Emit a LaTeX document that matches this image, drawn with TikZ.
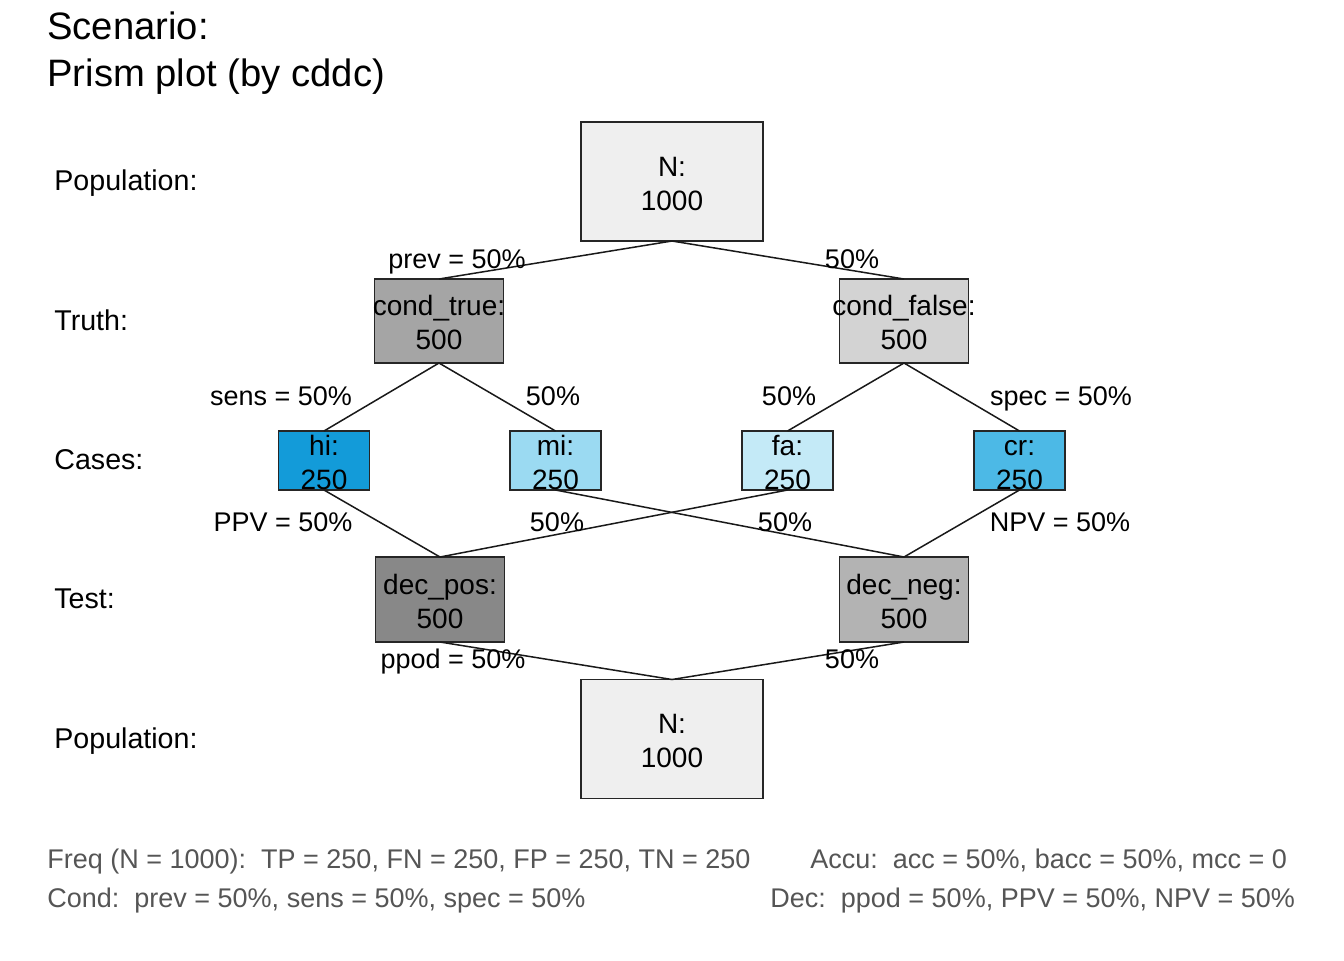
\documentclass[tikz,border=0pt]{standalone}
\usepackage{fontspec}
\setmainfont{Liberation Sans}
\begin{document}
\begin{tikzpicture}[x=0.5pt,y=-0.5pt,
  box/.style={draw=black!85,line width=0.75pt,inner sep=0pt,outer sep=0pt},
  nbox/.style={box,minimum width=91pt,minimum height=59.5pt,fill=nfill},
  mbox/.style={box,minimum width=64.5pt,minimum height=42pt},
  cbox/.style={box,minimum width=45.5pt,minimum height=29.5pt},
  btext/.style={inner sep=0pt,align=center,font=\fontsize{14}{17}\selectfont},
  rowlab/.style={anchor=base west,inner sep=0pt,font=\fontsize{14.3}{17}\selectfont},
  elab/.style={anchor=base,inner sep=0pt,font=\fontsize{13.5}{16}\selectfont},
  foot/.style={anchor=base west,inner sep=0pt,text=foottxt,font=\fontsize{13.5}{16}\selectfont},
  edge/.style={line width=0.75pt,black!90}
]
\definecolor{nfill}{HTML}{EFEFEF}
\definecolor{ctfill}{HTML}{A5A5A5}
\definecolor{cffill}{HTML}{D3D3D3}
\definecolor{hifill}{HTML}{139BD9}
\definecolor{mifill}{HTML}{9BDAF2}
\definecolor{fafill}{HTML}{C4EAF7}
\definecolor{crfill}{HTML}{4CB9E6}
\definecolor{dpfill}{HTML}{888888}
\definecolor{dnfill}{HTML}{B3B3B3}
\definecolor{foottxt}{HTML}{555555}
\useasboundingbox[fill=white] (0,0) rectangle (1344,960);

% title
\node[anchor=base west,inner sep=0pt,font=\fontsize{19.1}{23.5}\selectfont] (t1) at (47,39) {Scenario:};
\node[anchor=base west,inner sep=0pt,font=\fontsize{19.1}{23.5}\selectfont] (t2) at (47,86) {Prism plot (by cddc)};

% row labels
\node[rowlab] (r1) at (54,190) {Population:};
\node[rowlab] (r2) at (54,330) {Truth:};
\node[rowlab] (r3) at (54,469) {Cases:};
\node[rowlab] (r4) at (54,608) {Test:};
\node[rowlab] (r5) at (54,748) {Population:};

% boxes
\node[nbox] (N1) at (672,181.5) {};
\node[mbox,fill=ctfill] (ct) at (439,321) {};
\node[mbox,fill=cffill] (cf) at (904,321) {};
\node[cbox,fill=hifill] (hi) at (324,460.5) {};
\node[cbox,fill=mifill] (mi) at (555.5,460.5) {};
\node[cbox,fill=fafill] (fa) at (787.5,460.5) {};
\node[cbox,fill=crfill] (cr) at (1019.5,460.5) {};
\node[mbox,fill=dpfill,minimum height=42.5pt] (dp) at (440,599.5) {};
\node[mbox,fill=dnfill,minimum height=42.5pt] (dn) at (904,599.5) {};
\node[nbox] (N2) at (672,739) {};

% edges
\draw[edge] (N1.south) -- (ct.north);
\draw[edge] (N1.south) -- (cf.north);
\draw[edge] (ct.south) -- (hi.north);
\draw[edge] (ct.south) -- (mi.north);
\draw[edge] (cf.south) -- (fa.north);
\draw[edge] (cf.south) -- (cr.north);
\draw[edge] (hi.south) -- (dp.north);
\draw[edge] (fa.south) -- (dp.north);
\draw[edge] (mi.south) -- (dn.north);
\draw[edge] (cr.south) -- (dn.north);
\draw[edge] (dp.south) -- (N2.north);
\draw[edge] (dn.south) -- (N2.north);

% box texts
\node[btext] (N1t) at ([yshift=-0.75pt]N1.center) {\vphantom{h}N:\\1000};
\node[btext] (ctt) at ([yshift=-0.75pt]ct.center) {\vphantom{h}cond\_true:\\500};
\node[btext] (cft) at ([yshift=-0.75pt]cf.center) {\vphantom{h}cond\_false:\\500};
\node[btext] (hit) at ([yshift=-0.75pt]hi.center) {\vphantom{h}hi:\\250};
\node[btext] (mit) at ([yshift=-0.75pt]mi.center) {\vphantom{h}mi:\\250};
\node[btext] (fat) at ([yshift=-0.75pt]fa.center) {\vphantom{h}fa:\\250};
\node[btext] (crt) at ([yshift=-0.75pt]cr.center) {\vphantom{h}cr:\\250};
\node[btext] (dpt) at ([yshift=-0.75pt]dp.center) {\vphantom{h}dec\_pos:\\500};
\node[btext] (dnt) at ([yshift=-0.75pt]dn.center) {\vphantom{h}dec\_neg:\\500};
\node[btext] (N2t) at ([yshift=-0.75pt]N2.center) {\vphantom{h}N:\\1000};

% edge labels
\node[elab] (l1) at (457,268) {prev = 50\%};
\node[elab] (l2) at (852,268) {50\%};
\node[elab] (l3) at (281,405) {sens = 50\%};
\node[elab] (l4) at (553,405) {50\%};
\node[elab] (l5) at (789,405) {50\%};
\node[elab] (l6) at (1061,405) {spec = 50\%};
\node[elab] (l7) at (283,531) {PPV = 50\%};
\node[elab] (l8) at (557,531) {50\%};
\node[elab] (l9) at (785,531) {50\%};
\node[elab] (l10) at (1060,531) {NPV = 50\%};
\node[elab] (l11) at (453,668) {ppod = 50\%};
\node[elab] (l12) at (852,668) {50\%};

% footer
\node[foot] (f1) at (47,868) {Freq (N = 1000):\ \ TP = 250, FN = 250, FP = 250, TN = 250};
\node[foot] (f2) at (47,907) {Cond:\ \ prev = 50\%, sens = 50\%, spec = 50\%};
\node[foot] (f3) at (810,868) {Accu:\ \ acc = 50\%, bacc = 50\%, mcc = 0};
\node[foot] (f4) at (770,907) {Dec:\ \ ppod = 50\%, PPV = 50\%, NPV = 50\%};
\end{tikzpicture}
\end{document}
